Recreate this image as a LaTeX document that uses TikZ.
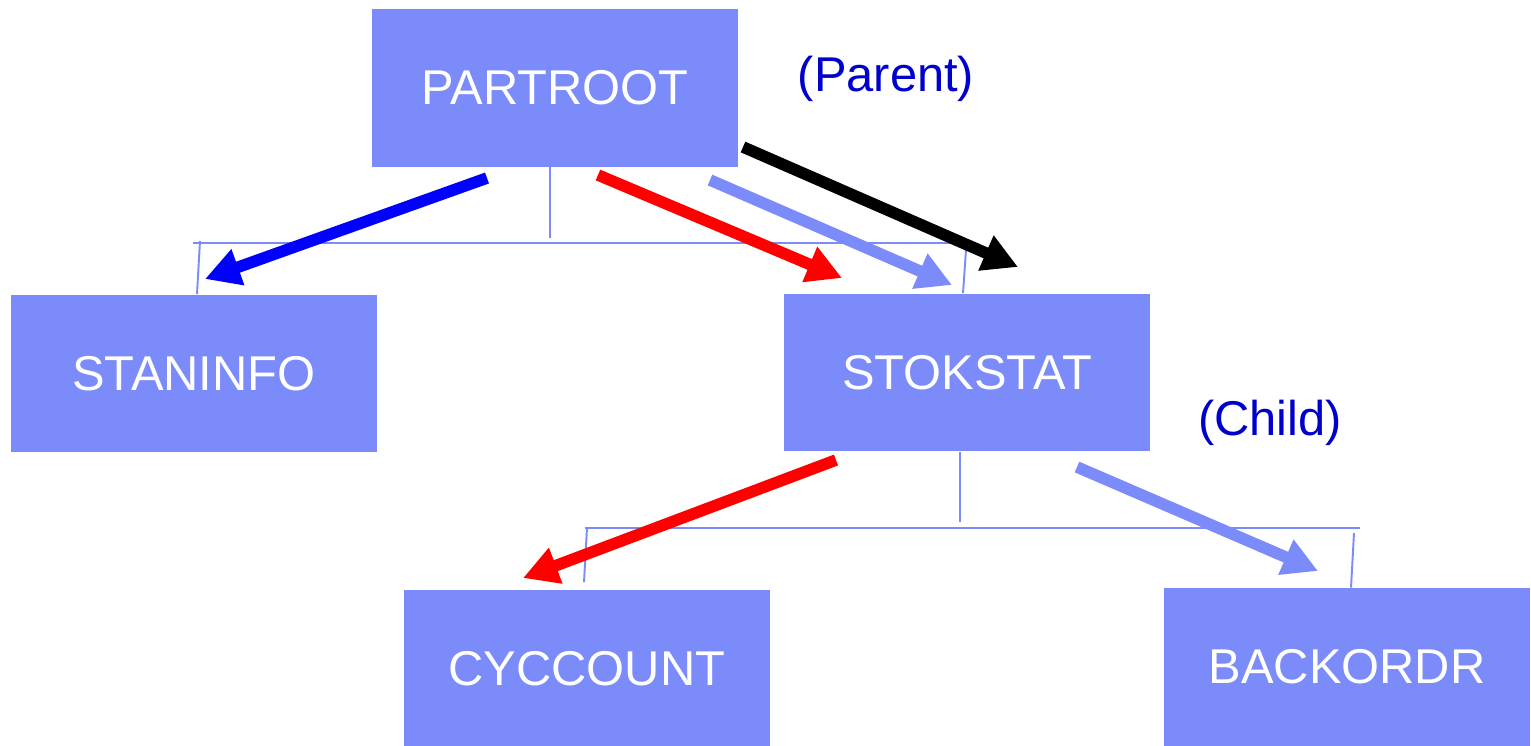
\documentclass[tikz,border=0pt]{standalone}
\usepackage{fontspec}
\setmainfont{Liberation Sans}
\usetikzlibrary{arrows.meta}
\usetikzlibrary{calc,positioning}
\definecolor{segblue}{RGB}{123,139,250}
\definecolor{labblue}{RGB}{0,0,204}
\tikzset{
  seg/.style={rectangle, fill=segblue, text=white, inner sep=0pt,
    minimum width=7.32cm, minimum height=3.16cm, font=\fontsize{27.8}{32}\selectfont},
  tree/.style={draw=segblue, line width=1.1pt},
  path/.style={line width=6.6pt, -{Triangle[length=0.7cm,width=0.72cm]}},
  lab/.style={text=labblue, font=\fontsize{27.8}{32}\selectfont}
}
\begin{document}
\begin{tikzpicture}[x=0.02cm, y=-0.02cm]
    \useasboundingbox (0,0) rectangle (1531,745);
    % segments
    \node[seg] (partroot) at (555,88) {PARTROOT};
    \node[seg] (staninfo) at (194,373.5) {STANINFO};
    \node[seg] (stokstat) at (967,372.5) {STOKSTAT};
    \node[seg] (cyccount) at (587,669) {CYCCOUNT};
    \node[seg] (backordr) at (1347,667) {BACKORDR};
    \node[lab] (parent) at (886,79) {(Parent)};
    \node[lab] (child) at (1270,423) {(Child)};

    % hierarchy lines
    \coordinate (j1) at (550,238);
    \coordinate (h1l) at (193,243);
    \coordinate (h1r) at (965,243);
    \coordinate (s1l) at (200,241);
    \coordinate (s1r) at (966,250);
    \draw[tree] (partroot.south -| j1) -- (j1);
    \draw[tree] (h1l) -- (h1r);
    \draw[tree] (s1l) -- (staninfo.north -| 197,0);
    \draw[tree] (s1r) -- (stokstat.north -| 963,0);
    \coordinate (j2) at (960,522);
    \coordinate (h2l) at (585,528);
    \coordinate (h2r) at (1360,528);
    \coordinate (s2l) at (587,528);
    \coordinate (s2r) at (1354,533);
    \draw[tree] (stokstat.south -| j2) -- (j2);
    \draw[tree] (h2l) -- (h2r);
    \draw[tree] (s2l) -- (584,582);
    \draw[tree] (s2r) -- (backordr.north -| 1351,0);

    % access paths
    \coordinate (b0) at (487,178);  \coordinate (b1) at (205,279);
    \coordinate (r0) at (598,175);  \coordinate (r1) at (842,278);
    \coordinate (l0) at (710,180);  \coordinate (l1) at (952,285);
    \coordinate (k0) at (743,147);  \coordinate (k1) at (1018,267);
    \coordinate (r2) at (836,460);  \coordinate (r3) at (523,578);
    \coordinate (l2) at (1077,467); \coordinate (l3) at (1318,571);
    \draw[path, blue] (b0) -- (b1);
    \draw[path, red] (r0) -- (r1);
    \draw[path, segblue] (l0) -- (l1);
    \draw[path, black] (k0) -- (k1);
    \draw[path, red] (r2) -- (r3);
    \draw[path, segblue] (l2) -- (l3);
\end{tikzpicture}
\end{document}
